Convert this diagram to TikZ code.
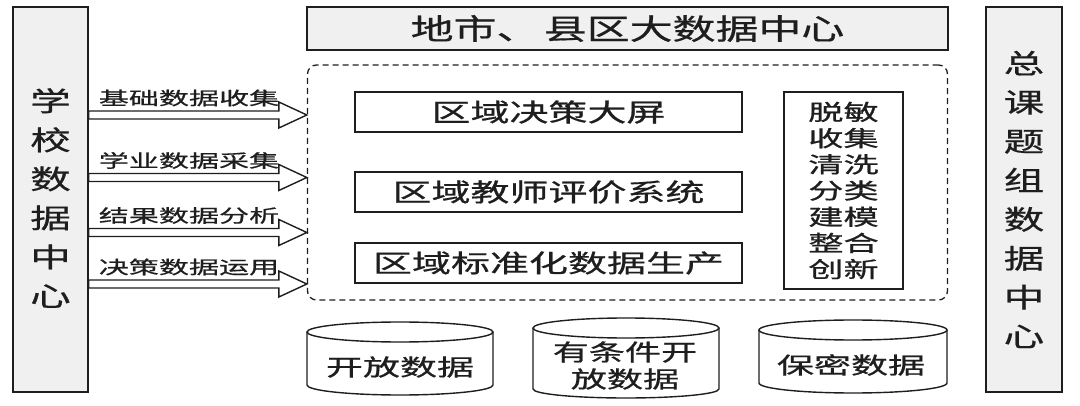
\documentclass[tikz,border=0pt]{standalone}
\usepackage{fontspec}
\usepackage{graphicx}
\setmainfont{Noto Sans CJK SC}[FakeBold=0.6]
\newcommand{\myfs}[2]{\fontsize{#1}{#2}\selectfont}
\newcommand{\hstr}[2][1.57]{\scalebox{#1}[1]{#2}}
\definecolor{boxgray}{HTML}{F0F0F0}
\definecolor{ink}{HTML}{1E1E1E}
\tikzset{
  base/.style={draw=ink, line width=1.4pt, inner sep=0pt, text=ink},
  graybox/.style={base, fill=boxgray},
  whitebox/.style={base, fill=white},
  dashbox/.style={draw=ink, line width=1.3pt, dash pattern=on 6pt off 4pt, rounded corners=9pt},
  barrow/.style={draw=ink, line width=1.4pt, fill=white, line join=miter},
  lbl/.style={text=ink, inner sep=0pt, font=\myfs{18}{20}},
  cylbody/.style={draw=ink, line width=1.4pt, fill=white},
  cyltext/.style={text=ink, inner sep=0pt, align=center, font=\myfs{23}{27}}
}
\begin{document}
\begin{tikzpicture}[x=1pt, y=-1pt]
\useasboundingbox (0,0) rectangle (1080,406);

% side boxes
\node[graybox, minimum width=75pt, minimum height=385pt] (L) at (50.5,199.5) {};
\node[text=ink, inner sep=0pt, align=center, font=\myfs{27}{39}] (Lt) at (50.5,198)
  {\hstr[1.5]{学}\\\hstr[1.5]{校}\\\hstr[1.5]{数}\\\hstr[1.5]{据}\\\hstr[1.5]{中}\\\hstr[1.5]{心}};
\node[graybox, minimum width=76pt, minimum height=385pt, align=center, font=\myfs{27}{39}] (R) at (1024,199.5)
  {\hstr[1.5]{总}\\\hstr[1.5]{课}\\\hstr[1.5]{题}\\\hstr[1.5]{组}\\\hstr[1.5]{数}\\\hstr[1.5]{据}\\\hstr[1.5]{中}\\\hstr[1.5]{心}};

% top box
\node[graybox, minimum width=641pt, minimum height=43pt, font=\myfs{29}{32}] (T) at (627.5,28.5)
  {\hstr[1.48]{地市、\hspace{3pt}县区大数据中心}};

% dashed region
\node[dashbox, minimum width=640pt, minimum height=235pt, inner sep=0pt] (D) at (627.5,182.5) {};

% inner boxes
\node[whitebox, minimum width=387pt, minimum height=40pt, font=\myfs{25}{28}] (B1) at (548.5,112) {\hstr[1.56]{区域决策大屏}};
\node[whitebox, minimum width=387pt, minimum height=40pt, font=\myfs{25}{28}] (B2) at (548.5,192) {\hstr[1.56]{区域教师评价系统}};
\node[whitebox, minimum width=387pt, minimum height=40pt, font=\myfs{25}{28}] (B3) at (548.5,263) {\hstr[1.56]{区域标准化数据生产}};

\node[whitebox, minimum width=119pt, minimum height=197pt, align=center, font=\myfs{22}{26.2}] (P) at (843.5,190.5)
  {\hstr[1.6]{脱敏}\\\hstr[1.6]{收集}\\\hstr[1.6]{清洗}\\\hstr[1.6]{分类}\\\hstr[1.6]{建模}\\\hstr[1.6]{整合}\\\hstr[1.6]{创新}};

% block arrows with labels
\foreach \y/\t in {115/基础数据收集, 177.5/学业数据采集, 232.5/结果数据分析, 284/决策数据运用} {
  \coordinate (tip) at (D.west |- 0,\y);
  \draw[barrow] (tip) -- ++(-28,-13) -- ++(0,9) -- (L.east |- 0,\y-4)
     -- (L.east |- 0,\y+4) -- ([xshift=-28pt]tip |- 0,\y+4) -- ++(0,9) -- cycle;
  \node[lbl] at (189,\y-17) {\hstr[1.67]{\t}};
}

% cylinders
\draw[cylbody] (307,332) -- (307,385) arc[start angle=180, end angle=0, x radius=93, y radius=10] -- (493,332);
\draw[cylbody] (400,332) ellipse [x radius=93, y radius=10];
\node[cyltext] (C1) at (400,367) {\hstr[1.61]{开放数据}};

\draw[cylbody] (533,328) -- (533,389) arc[start angle=180, end angle=0, x radius=93, y radius=9] -- (719,328);
\draw[cylbody] (626,328) ellipse [x radius=93, y radius=10];
\node[cyltext] (C2) at (625,365.5) {\hstr[1.57]{有条件开}\\\hstr[1.57]{放数据}};

\draw[cylbody] (759,330) -- (759,383) arc[start angle=180, end angle=0, x radius=94, y radius=10] -- (947,330);
\draw[cylbody] (853,330) ellipse [x radius=94, y radius=10];
\node[cyltext] (C3) at (851,365) {\hstr[1.61]{保密数据}};
\end{tikzpicture}
\end{document}
